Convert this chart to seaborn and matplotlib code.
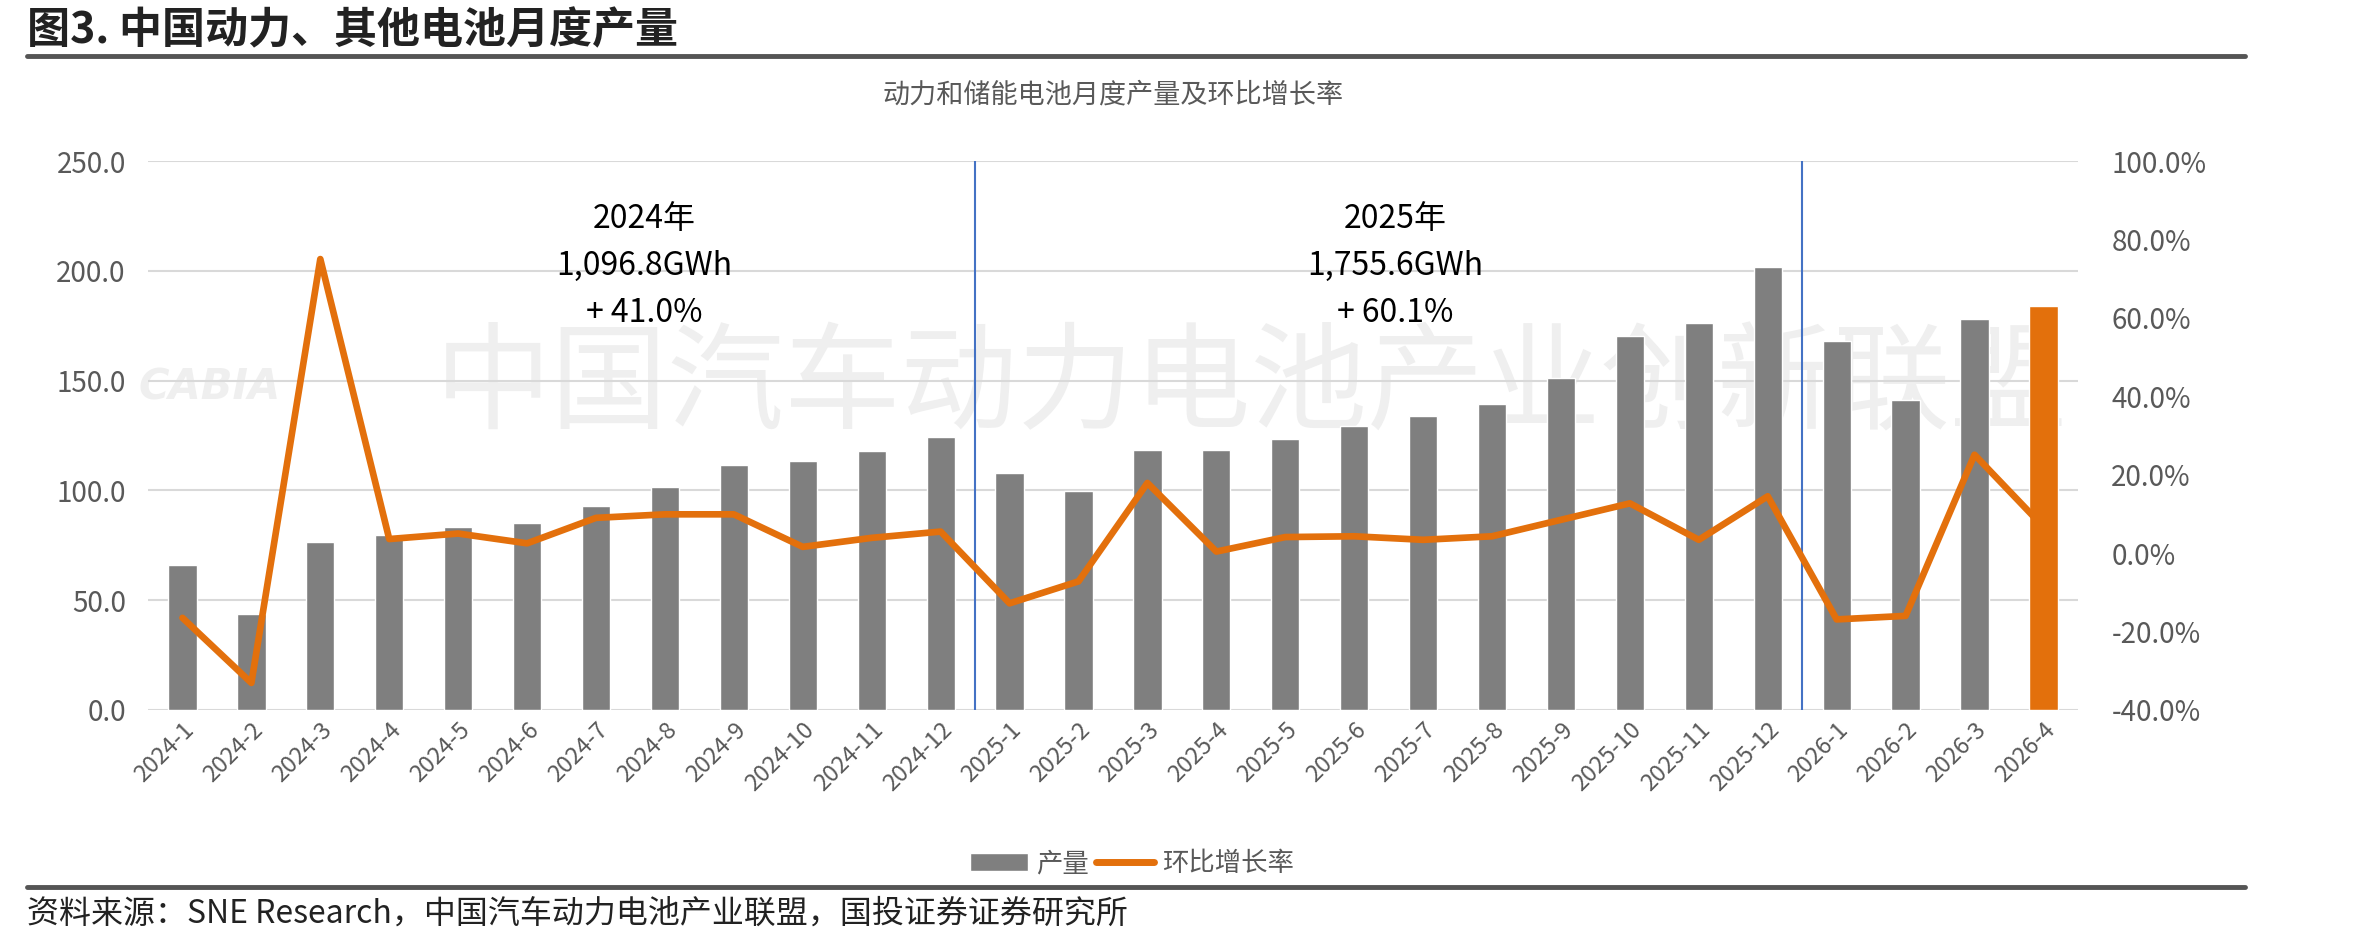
import numpy as np
import pandas as pd
import matplotlib.pyplot as plt
import seaborn as sns
from matplotlib.patches import Patch
from matplotlib.lines import Line2D
from matplotlib.ticker import FuncFormatter

sns.set_theme(style="white")
plt.rcParams['font.family'] = ['Noto Sans CJK SC', 'DejaVu Sans']

months = ['2024-1', '2024-2', '2024-3', '2024-4', '2024-5', '2024-6', '2024-7',
          '2024-8', '2024-9', '2024-10', '2024-11', '2024-12',
          '2025-1', '2025-2', '2025-3', '2025-4', '2025-5', '2025-6', '2025-7',
          '2025-8', '2025-9', '2025-10', '2025-11', '2025-12',
          '2026-1', '2026-2', '2026-3', '2026-4']
output = [66.0, 43.7, 76.7, 79.5, 83.3, 85.3, 92.9, 101.5, 111.7, 113.5, 118.0, 124.3,
          108.1, 99.8, 118.3, 118.3, 123.3, 129.2, 134.0, 139.4, 151.3, 170.5, 176.4, 201.8,
          168.0, 141.4, 177.9, 184.0]
mom = [-16.5, -33.1, 75.0, 3.6, 5.0, 2.5, 9.0, 9.9, 9.9, 1.6, 3.9, 5.5,
       -12.8, -7.2, 17.9, 0.4, 4.1, 4.3, 3.4, 4.3, 8.5, 12.7, 3.4, 14.5,
       -16.9, -16.0, 25.1, 6.7]
year_notes = ['2024年\n1,096.8GWh\n+ 41.0%', '2025年\n1,755.6GWh\n+ 60.1%']

GRAY = '#7f7f7f'
ORANGE = '#e3700c'
TXT = '#595959'

df = pd.DataFrame({'month': months, 'output': output, 'mom': mom})
df['pos'] = np.arange(len(df))
colors = [GRAY] * (len(df) - 1) + [ORANGE]

fig = plt.figure(figsize=(23.68, 9.44), dpi=100)
ax = fig.add_axes([0.0625, 0.2479, 0.815, 0.5815])

sns.barplot(data=df, x='month', y='output', hue='month', palette=colors,
            width=0.41, legend=False, saturation=1, ax=ax)
ax.set_ylim(0, 250)
ax.set_yticks(np.arange(0, 251, 50))
ax.yaxis.set_major_formatter(FuncFormatter(lambda v, p: f'{v:.1f}'))
ax.grid(axis='y', color='#d9d9d9', linewidth=1.5)
ax.set_axisbelow(True)
ax.set_xlim(-0.5, len(df) - 0.5)
ax.set_xlabel('')
ax.set_ylabel('')
for s in ax.spines.values():
    s.set_visible(False)
ax.tick_params(axis='y', length=0, labelsize=20, labelcolor=TXT, pad=16)
ax.tick_params(axis='x', length=0, labelsize=17, labelcolor=TXT, pad=6)
for lab in ax.get_xticklabels():
    lab.set_rotation(45)
    lab.set_ha('right')
    lab.set_rotation_mode('anchor')

# year separators
for xv in [11.5, 23.5]:
    ax.axvline(xv, color='#4472c4', linewidth=1.5, zorder=1)

# watermark
ax.text(15.5, 147, '中国汽车动力电池产业创新联盟', fontsize=84, color='#efefef',
        ha='center', va='center', zorder=0)
ax.text(0.4, 147, 'CABIA', fontsize=30, color='#efefef', style='italic',
        ha='center', va='center', zorder=0, family='DejaVu Sans', weight='bold')

ax2 = ax.twinx()
sns.lineplot(data=df, x='pos', y='mom', color=ORANGE, linewidth=4.8, ax=ax2)
ax2.set_ylim(-40, 100)
ax2.set_yticks(np.arange(-40, 101, 20))
ax2.yaxis.set_major_formatter(FuncFormatter(lambda v, p: f'{v:.1f}%'))
ax2.set_ylabel('')
ax2.set_xlabel('')
for s in ax2.spines.values():
    s.set_visible(False)
ax2.tick_params(axis='y', length=0, labelsize=20, labelcolor=TXT, pad=24)
ax2.set_xlim(-0.5, len(df) - 0.5)

for xv, note in zip([6.7, 17.6], year_notes):
    ax.text(xv, 231, note, ha='center', va='top', fontsize=23, color='black',
            linespacing=1.6, zorder=5, weight='medium')

ax.set_title('动力和储能电池月度产量及环比增长率', fontsize=19.5, color=TXT, pad=42)

handles = [Patch(facecolor=GRAY, label='产量'),
           Line2D([0], [0], color=ORANGE, linewidth=5, label='环比增长率')]
fig.legend(handles=handles, loc='center', bbox_to_anchor=(0.478, 0.085), ncol=2,
           frameon=False, fontsize=19, labelcolor=TXT, handlelength=2.2,
           handletextpad=0.3, columnspacing=0.3)

# report header / footer
fig.text(0.0114, 0.968, '图3. 中国动力、其他电池月度产量', fontsize=31, weight='bold',
         color='#222222', ha='left', va='center')
fig.add_artist(Line2D([0.0114, 0.948], [0.941, 0.941], color='#555555', linewidth=3.5))
fig.add_artist(Line2D([0.0114, 0.948], [0.0604, 0.0604], color='#555555', linewidth=3.5))
fig.text(0.0114, 0.032, '资料来源：SNE Research，中国汽车动力电池产业联盟，国投证券证券研究所',
         fontsize=23, style='italic', color='#222222', ha='left', va='center')

fig.savefig('out.png', dpi=100)
